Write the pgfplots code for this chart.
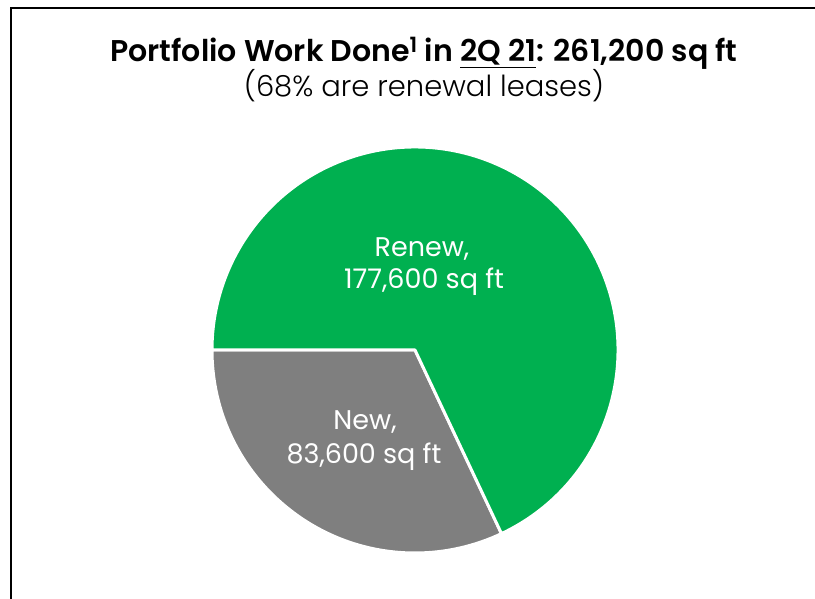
\documentclass[border=0pt]{standalone}
\usepackage{pgfplots}
\usepackage{pgfplotstable}
\pgfplotsset{compat=1.18}
\usepackage{fontspec}
\setmainfont{Poppins}
\newfontfamily\lightfont{Poppins Light}
\newfontfamily\semifont{Poppins SemiBold}
\definecolor{renewgreen}{HTML}{00B050}
\definecolor{newgray}{HTML}{7F7F7F}

% leased area, sq ft
\pgfplotstableread{
label value
New 83600
Renew 177600
}\leasedata

\begin{document}
\begin{tikzpicture}
\pgfplotstablegetelem{0}{value}\of\leasedata \edef\vnew{\pgfplotsretval}
\pgfplotstablegetelem{1}{value}\of\leasedata \edef\vrenew{\pgfplotsretval}
\edef\split{\fpeval{180+360*\vnew/(\vnew+\vrenew)}}
\begin{axis}[
    name=ax,
    hide axis,
    scale only axis,
    width=815pt, height=598pt,
    xmin=0, xmax=815, ymin=0, ymax=598,
    clip=false,
]
% slices, start on the left and run counterclockwise
\filldraw[fill=newgray, draw=white, line width=3pt, line join=round]
    (axis cs:415,248) -- ++(180:203) arc[start angle=180, end angle=\split, radius=203] -- cycle;
\filldraw[fill=renewgreen, draw=white, line width=3pt, line join=round]
    (axis cs:415,248) -- ++(\split:203) arc[start angle=\split, end angle=540, radius=203] -- cycle;

\node[anchor=base, white] at (axis cs:422,341) {\fontsize{27}{30}\selectfont Renew,};
\node[anchor=base, white] at (axis cs:424,309) {\fontsize{27}{30}\selectfont 177,600 sq ft};
\node[anchor=base, white] at (axis cs:365,168) {\fontsize{27}{30}\selectfont New,};
\node[anchor=base, white] at (axis cs:364,134) {\fontsize{27}{30}\selectfont 83,600 sq ft};

\node[anchor=base] at (axis cs:424,536) {\fontsize{30}{34}\selectfont\semifont Portfolio Work Done\textsuperscript{1} in \underline{2Q 21}: 261,200 sq ft};
\node[anchor=base] at (axis cs:424,501) {\fontsize{29}{33}\selectfont\lightfont (68\% are renewal leases)};

\draw[line width=2pt] (axis cs:11,-20) -- (axis cs:11,590) -- (axis cs:840,590);
\end{axis}
\pgfresetboundingbox
\path[use as bounding box] (ax.south west) rectangle (ax.north east);
\end{tikzpicture}
\end{document}
